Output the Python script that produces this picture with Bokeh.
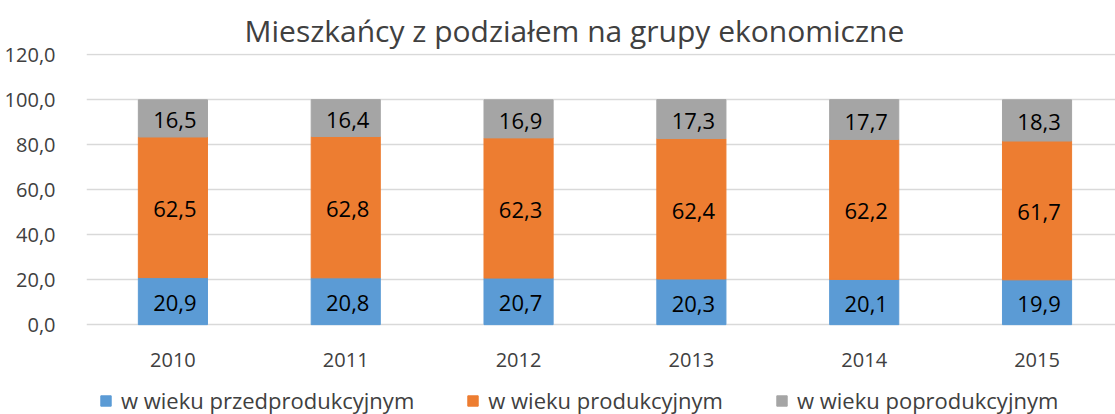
from bokeh.plotting import figure
from bokeh.models import ColumnDataSource, Range1d, FixedTicker, CustomJSTickFormatter, Legend
from bokeh.core.properties import value
from bokeh.embed import file_html
from bokeh.resources import INLINE

years = ["2010", "2011", "2012", "2013", "2014", "2015"]
pre = [20.9, 20.8, 20.7, 20.3, 20.1, 19.9]
prod = [62.5, 62.8, 62.3, 62.4, 62.2, 61.7]
post = [16.5, 16.4, 16.9, 17.3, 17.7, 18.3]
series_names = ["w wieku przedprodukcyjnym", "w wieku produkcyjnym", "w wieku poprodukcyjnym"]
colors = ["#5B9BD5", "#ED7D31", "#A5A5A5"]
y_ticks = [0, 20, 40, 60, 80, 100, 120]

FONT = "Open Sans"
xs = list(range(len(years)))

src = ColumnDataSource(dict(x=xs, pre=pre, prod=prod, post=post))

p = figure(width=1115, height=414, output_backend="svg", toolbar_location=None,
           x_range=Range1d(-0.5, 5.454), y_range=Range1d(-39.94, 120.5),
           min_border_left=86, min_border_right=0, min_border_top=53, min_border_bottom=0)

p.title.text = "Mieszkańcy z podziałem na grupy ekonomiczne"
p.title.text_font = FONT
p.title.text_font_size = "30px"
p.title.text_font_style = "normal"
p.title.text_color = "#404040"
p.title.align = "left"
p.title.offset = 158
p.title.standoff = 5

renderers = p.vbar_stack(["pre", "prod", "post"], x="x", width=0.4, color=colors, source=src)

# labels
for name, vals, bases in (
    ("pre", pre, [0] * len(pre)),
    ("prod", prod, pre),
    ("post", post, [a + b for a, b in zip(pre, prod)]),
):
    mids = [b + v / 2 for b, v in zip(bases, vals)]
    txt = [f"{v:.1f}".replace(".", ",") for v in vals]
    ls = ColumnDataSource(dict(x=xs, y=mids, t=txt))
    p.text(x="x", y="y", text="t", source=ls, text_align="center", text_baseline="middle",
           text_font=value(FONT), text_font_size="22px", text_color="#000000",
           x_offset=2, y_offset=2)

legend = Legend(items=[(n, [r]) for n, r in zip(series_names, renderers)],
                orientation="horizontal", location=(13, -1),
                label_text_font=FONT, label_text_font_size="22px", label_text_color="#404040",
                glyph_width=13, glyph_height=13, label_standoff=9, spacing=52,
                padding=0, margin=0, border_line_color=None, background_fill_alpha=0)
p.add_layout(legend, "center")

# axes
p.xaxis.ticker = FixedTicker(ticks=xs)
p.xaxis.major_label_overrides = {i: y for i, y in enumerate(years)}
p.xaxis.fixed_location = 0
p.yaxis.ticker = FixedTicker(ticks=y_ticks)
p.yaxis.formatter = CustomJSTickFormatter(code="return tick.toFixed(1).replace('.', ',');")
for ax in (p.xaxis[0], p.yaxis[0]):
    ax.axis_line_color = None
    ax.major_tick_line_color = None
    ax.minor_tick_line_color = None
    ax.major_label_text_font = FONT
    ax.major_label_text_font_size = "20px"
    ax.major_label_text_color = "#404040"
p.yaxis.major_label_standoff = 25
p.xaxis.major_label_standoff = 22

p.xgrid.grid_line_color = None
p.ygrid.grid_line_color = "#D9D9D9"
p.ygrid.grid_line_width = 1.5
p.outline_line_color = None

open("out.html", "w").write(file_html(p, INLINE))
